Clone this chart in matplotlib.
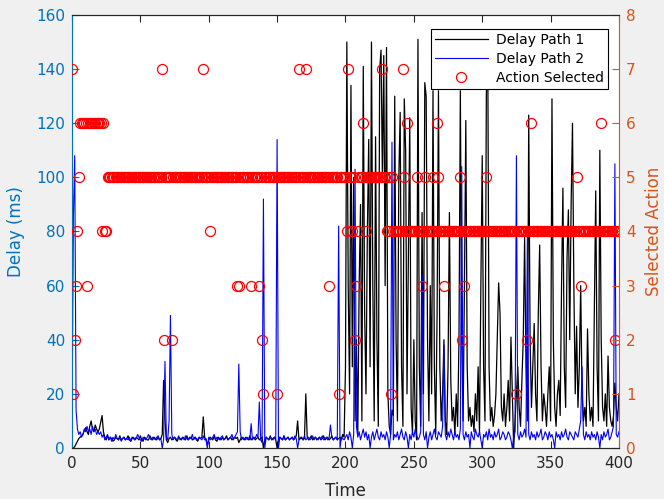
import matplotlib.pyplot as plt
import numpy as np

# delay of path 1 (black), one value per time step 0..400
delay_path1 = [
    0, 0, 0.5, 1.5, 2.5, 3.5, 4, 4.5, 5, 6.5, 7.5, 6, 5, 8, 10, 7, 6, 8.5, 7, 6,
    7, 9.5, 12, 6, 4, 3, 4.5, 3, 4, 3.5, 2.5, 3, 4, 3.5, 3, 4.5, 3, 3.5, 4, 3,
    3.5, 4.5, 3, 2.5, 4, 3.5, 3, 4, 3.5, 3, 4.5, 3, 2.5, 4, 3.5, 3, 3, 4.5, 3.5, 3,
    4, 3.5, 3, 4, 3, 3.5, 5, 25, 10, 3, 2, 3.5, 4, 3, 3.5, 4, 3, 2.5, 4, 3.5,
    3, 4, 3.5, 3, 4.5, 3, 3.5, 4, 3, 3.5, 4, 3, 2.5, 4, 3.5, 4, 11.5, 4, 3, 1,
    3, 4, 3.5, 3, 4.5, 3, 2.5, 4, 3.5, 3, 4, 3, 3.5, 4.5, 3, 3.5, 4, 3, 3.5, 4,
    3.5, 4, 2, 3, 4, 3.5, 3, 4, 3.5, 3, 4.5, 3, 3.5, 4, 3, 3.5, 4, 3, 3.5, 4,
    0, 3, 4, 3.5, 3, 4.5, 3, 3.5, 4, 3, 0, 3, 4, 3.5, 3, 4.5, 3, 3.5, 4, 3,
    3.5, 4, 3, 3.5, 4.5, 10, 3, 3.5, 4, 3, 3.5, 20, 4, 3, 3.5, 4.5, 3, 3.5, 4, 3,
    3.5, 4, 3, 3.5, 4.5, 3, 3.5, 4, 3, 3.5, 4.5, 3, 3.5, 4, 3, 3.5, 4, 3, 5, 4,
    30, 150, 60, 20, 134, 30, 100, 10, 40, 5, 60, 90, 10, 141, 50, 20, 80, 114, 30, 150,
    60, 10, 115, 40, 8, 140, 147, 100, 145, 60, 148, 20, 8, 5, 14, 12, 130, 40, 10, 100,
    124, 30, 8, 129, 110, 20, 70, 122, 15, 5, 40, 10, 3, 151, 30, 8, 87, 20, 135, 130,
    40, 10, 60, 20, 132, 30, 5, 50, 132, 30, 10, 20, 40, 10, 5, 30, 87, 25, 10, 15,
    5, 20, 8, 40, 132, 40, 10, 60, 121, 30, 10, 15, 8, 12, 6, 20, 10, 30, 5, 60,
    108, 30, 10, 130, 152, 30, 10, 15, 8, 12, 20, 40, 61, 50, 15, 10, 20, 8, 15, 25,
    10, 41, 20, 0, 10, 20, 30, 15, 8, 25, 40, 78, 30, 10, 123, 40, 15, 30, 46, 20,
    10, 50, 75, 30, 10, 20, 15, 8, 20, 30, 10, 129, 40, 15, 8, 20, 25, 12, 60, 96,
    30, 15, 70, 88, 40, 90, 120, 60, 20, 45, 15, 30, 60, 20, 10, 15, 8, 44, 20, 10,
    15, 8, 50, 95, 30, 10, 110, 40, 15, 10, 20, 8, 34, 15, 10, 8, 12, 24, 15, 10,
    20,
]

# delay of path 2 (blue)
delay_path2 = [
    0, 85, 108, 14, 7, 5, 6, 4, 5, 7, 6, 8, 6, 7, 5, 8, 6, 7, 5, 6,
    5, 6, 4, 5, 3, 4, 5, 3, 4, 2.5, 4, 3, 5, 3.5, 3, 4, 2.5, 3.5, 4, 3,
    3.5, 3, 4, 2.5, 3.5, 4, 3, 3.5, 5, 4, 3, 2.5, 4, 3.5, 3, 4, 5, 3.5, 3, 4,
    3.5, 3, 4, 4.5, 3, 3.5, 0, 3, 32, 4, 3, 10, 49, 5, 3, 4, 3.5, 3, 4.5, 3,
    3.5, 4, 3, 4.5, 3.5, 3, 4, 3.5, 5, 3, 4, 3.5, 3, 4, 3.5, 3, 4.5, 3, 3.5, 0,
    4, 3, 3.5, 4, 5, 3, 4, 3.5, 3, 4, 4.5, 3, 3.5, 4, 3, 3.5, 4, 5, 3, 4,
    5, 6, 31, 6, 3, 4, 3.5, 3, 4, 3.5, 3, 9, 3, 4, 3.5, 5, 4, 17, 3, 2,
    92, 0, 4, 3.5, 3, 4, 3.5, 3, 4, 3, 114, 0, 4, 3.5, 3, 4.5, 3, 3.5, 4, 3,
    3.5, 4, 3, 4.5, 3.5, 0, 3, 4, 3.5, 3, 4.5, 3, 3.5, 4, 3, 3.5, 4.5, 3, 4, 3.5,
    3, 4, 3.5, 4.5, 3, 3.5, 4, 3, 3.5, 8.5, 4, 3, 3.5, 4, 3, 82, 0, 4, 3.5, 3,
    4, 5, 3, 6, 4, 0, 5, 103, 8, 4, 6, 3, 5, 7, 4, 6, 3, 5, 0, 4,
    6, 3, 5, 7, 4, 3, 6, 4, 5, 3, 6, 4, 0, 5, 113, 3, 5, 4, 6, 3,
    5, 7, 4, 3, 6, 4, 0, 5, 3, 6, 4, 7, 5, 3, 4, 6, 64, 5, 3, 6,
    0, 4, 6, 3, 5, 7, 4, 3, 6, 5, 4, 8, 38, 5, 3, 6, 4, 7, 5, 3,
    6, 4, 5, 3, 7, 104, 5, 3, 6, 4, 5, 0, 6, 4, 3, 7, 5, 4, 6, 3,
    0, 5, 4, 6, 3, 7, 4, 5, 3, 6, 4, 5, 7, 3, 4, 6, 5, 3, 4, 6,
    5, 3, 0, 4, 6, 108, 5, 3, 6, 4, 5, 7, 4, 78, 5, 3, 6, 4, 5, 3,
    6, 4, 5, 7, 3, 4, 6, 5, 3, 6, 4, 5, 3, 0, 6, 4, 5, 3, 6, 4,
    5, 7, 4, 3, 6, 5, 4, 3, 6, 5, 4, 7, 10, 30, 5, 3, 6, 4, 5, 3,
    6, 4, 5, 3, 6, 4, 0, 5, 3, 6, 4, 5, 7, 3, 4, 6, 8, 105, 5, 4,
    6,
]

# selected action at each time step
action_selected = [
    7, 1, 2, 3, 4, 5, 6, 6, 6, 6, 6, 3, 6, 6, 6, 6, 6, 6, 6, 6,
    6, 6, 4, 6, 4, 4, 5, 5, 5, 5, 5, 5, 5, 5, 5, 5, 5, 5, 5, 5,
    5, 5, 5, 5, 5, 5, 5, 5, 5, 5, 5, 5, 5, 5, 5, 5, 5, 5, 5, 5,
    5, 5, 5, 5, 5, 5, 7, 2, 5, 5, 5, 5, 5, 2, 5, 5, 5, 5, 5, 5,
    5, 5, 5, 5, 5, 5, 5, 5, 5, 5, 5, 5, 5, 5, 5, 5, 7, 5, 5, 5,
    5, 4, 5, 5, 5, 5, 5, 5, 5, 5, 5, 5, 5, 5, 5, 5, 5, 5, 5, 5,
    5, 3, 3, 5, 5, 5, 5, 5, 5, 5, 5, 3, 5, 5, 5, 5, 5, 3, 5, 2,
    1, 5, 5, 5, 5, 5, 5, 5, 5, 5, 1, 5, 5, 5, 5, 5, 5, 5, 5, 5,
    5, 5, 5, 5, 5, 5, 7, 5, 5, 5, 5, 7, 5, 5, 5, 5, 5, 5, 5, 5,
    5, 5, 5, 5, 5, 5, 5, 5, 3, 5, 5, 5, 5, 5, 5, 1, 5, 5, 5, 5,
    5, 4, 7, 5, 5, 4, 5, 2, 3, 4, 5, 5, 5, 6, 5, 4, 5, 5, 5, 5,
    5, 5, 5, 5, 5, 5, 5, 7, 5, 5, 4, 4, 5, 1, 5, 4, 4, 4, 4, 4,
    4, 4, 7, 5, 4, 6, 4, 4, 4, 4, 4, 4, 5, 4, 4, 4, 3, 4, 5, 4,
    4, 4, 4, 4, 5, 4, 4, 6, 5, 4, 4, 4, 3, 4, 4, 4, 4, 4, 4, 4,
    4, 4, 4, 4, 5, 2, 4, 3, 4, 4, 4, 4, 4, 4, 4, 4, 4, 4, 4, 4,
    4, 4, 4, 5, 4, 4, 4, 4, 4, 4, 4, 4, 4, 4, 4, 4, 4, 4, 4, 4,
    4, 4, 4, 4, 4, 1, 4, 4, 4, 4, 4, 4, 4, 2, 4, 4, 6, 4, 4, 4,
    4, 4, 4, 4, 4, 4, 4, 4, 4, 4, 4, 4, 4, 4, 4, 4, 4, 4, 4, 4,
    4, 4, 4, 4, 4, 4, 4, 4, 4, 5, 4, 4, 3, 4, 4, 4, 4, 4, 4, 4,
    4, 4, 4, 4, 4, 4, 4, 6, 4, 4, 4, 4, 4, 4, 4, 4, 4, 2, 4, 4,
    4,
]

time = np.arange(len(delay_path1))

left_col = '#0072BD'
right_col = '#D95319'
dark = '#262626'

fig = plt.figure(figsize=(6.64, 4.99), dpi=100, facecolor='#f0f0f0')
ax = fig.add_axes([0.1084, 0.1022, 0.8238, 0.8678])
ax2 = ax.twinx()

l1, = ax.plot(time, delay_path1, color='black', lw=0.9, label='Delay Path 1')
l2, = ax.plot(time, delay_path2, color='blue', lw=0.8, label='Delay Path 2')
m, = ax2.plot(time, action_selected, 'o', mfc='none', mec='red', ms=7.2,
              mew=0.9, label='Action Selected')

ax.set_xlim(0, 400)
ax.set_ylim(0, 160)
ax2.set_ylim(0, 8)
ax.set_xticks(np.arange(0, 401, 50))
ax.set_yticks(np.arange(0, 161, 20))
ax2.set_yticks(np.arange(0, 9, 1))

ax.tick_params(axis='x', direction='in', top=True, length=5, labelsize=11,
               colors=dark, pad=6)
ax.tick_params(axis='y', direction='in', length=5, labelsize=11,
               colors=left_col, pad=5)
ax2.tick_params(axis='y', direction='in', length=5, labelsize=11,
                colors=right_col, pad=5)

ax.spines['left'].set_color(left_col)
ax2.spines['left'].set_visible(False)
ax2.spines['right'].set_color(right_col)
for a in (ax, ax2):
    a.spines['top'].set_color(dark)
    a.spines['bottom'].set_color(dark)
ax.spines['right'].set_visible(False)

ax.set_xlabel('Time', fontsize=12, color=dark, labelpad=8)
ax.set_ylabel('Delay (ms)', fontsize=12, color=left_col, labelpad=8)
ax2.set_ylabel('Selected Action', fontsize=12, color=right_col, labelpad=7)

leg = ax2.legend(handles=[l1, l2, m], loc='upper right',
                 bbox_to_anchor=(0.98, 0.968), borderaxespad=0,
                 fontsize=10, fancybox=False, framealpha=1,
                 edgecolor='black', handlelength=3.8, labelspacing=0.35,
                 borderpad=0.3, handletextpad=0.6)
leg.get_frame().set_linewidth(0.8)

fig.savefig('out.png', dpi=100, facecolor=fig.get_facecolor())
